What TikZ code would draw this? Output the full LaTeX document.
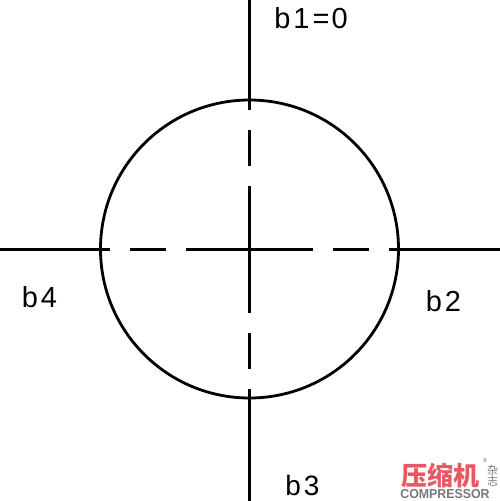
\documentclass[tikz,border=0pt]{standalone}
\usepackage{fontspec}
\setmainfont{Liberation Sans}
\newfontfamily\cjk{Noto Sans CJK SC}
\definecolor{wmred}{RGB}{232,88,98}
\definecolor{wmgray}{RGB}{120,120,120}
\tikzset{
  axisline/.style={line width=2.8pt, dash pattern=on 110pt off 20pt on 36pt off 20pt on 127pt off 20pt on 36pt off 20pt on 200pt},
  lbl/.style={font=\fontsize{29}{29}\selectfont, inner sep=0pt}
}
\begin{document}
\begin{tikzpicture}[x=1pt,y=-1pt]
\useasboundingbox (0,0) rectangle (500,501);
\coordinate (top) at (249.5,0);
\coordinate (bot) at (249.5,501);
\coordinate (lft) at (0,249.5);
\coordinate (rgt) at (500,249.5);
\coordinate (c) at (249.5,249);
\draw[line width=2.8pt] (c) circle[radius=149];
\draw[axisline] (top) -- (bot);
\draw[axisline] (lft) -- (rgt);
\node[lbl] (b1) at (311,18) {b\hspace{3pt}1\hspace{3pt}=\hspace{2pt}0};
\node[lbl] (b4) at (39.5,297.5) {b\hspace{3pt}4};
\node[lbl] (b2) at (443.5,301) {b\hspace{3pt}2};
\node[lbl, font=\fontsize{28}{28}\selectfont] (b3) at (302.5,485) {b\hspace{3pt}3};
% watermark
\node[inner sep=0pt, text=wmred, font=\cjk\bfseries\fontsize{26}{26}\selectfont] (wm) at (440,476) {压缩机};
\node[inner sep=0pt, text=wmgray, font=\cjk\fontsize{11}{11}\selectfont, align=center] (wz) at (492.5,476) {杂\\[0pt]志};
\node[inner sep=0pt, text=wmgray, font=\fontsize{6}{6}\selectfont] (wr) at (485,460) {®};
\node[inner sep=0pt, text=wmgray, font=\bfseries\fontsize{13}{13}\selectfont, xscale=0.95] (wc) at (445,494.5) {COMPRESSOR};
\end{tikzpicture}
\end{document}
